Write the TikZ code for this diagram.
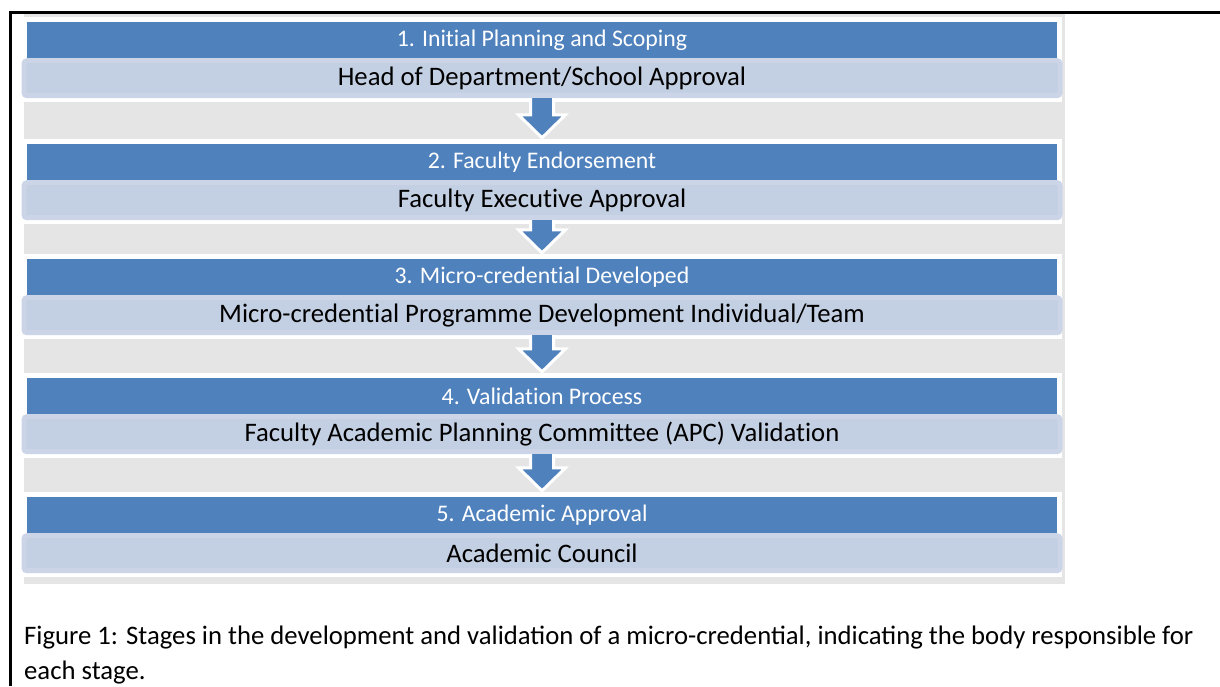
\documentclass[tikz,border=0pt]{standalone}
\usepackage{fontspec}
\setmainfont{Carlito}[Ligatures=NoCommon]
\newfontfamily\capfont{Carlito}
\usetikzlibrary{positioning,calc}

\definecolor{stageblue}{HTML}{4F81BD}
\definecolor{bodyfill}{HTML}{C3CFE2}
\definecolor{bodyglow}{HTML}{CCD5E8}
\definecolor{panelgray}{HTML}{E5E5E5}

\begin{document}
\begin{tikzpicture}[x=1pt,y=-1pt,
  stagebar/.style={rectangle,fill=stageblue,text=white,minimum width=1030pt,
    minimum height=36pt,inner sep=0pt,font=\fontsize{23.8}{28}\selectfont},
  bodybar/.style={rectangle,fill=bodyfill,draw=bodyglow,line width=5pt,
    rounded corners=3pt,minimum width=1036pt,minimum height=35pt,inner sep=0pt,
    font=\fontsize{26.7}{31}\selectfont},
  blockarrow/.style={fill=stageblue,draw=white,line width=3pt,line join=miter}]
  \useasboundingbox (0,0) rectangle (1220,686);
  % frame and panel
  \draw[line width=3pt] (10,686) -- (10,12) -- (1220,12);
  \fill[panelgray] (24,14) rectangle (1065,584);
  \foreach \t in {22,144,259,378,497}
    \fill[white] (24,\t-5) rectangle (1062,\t+80);

  % stages
  \node[stagebar] (s1) at (542,40) {1. Initial Planning and Scoping};
  \node[bodybar,below=0pt of s1] (b1) {Head of Department/School Approval};
  \node[stagebar] (s2) at (542,162) {2. Faculty Endorsement};
  \node[bodybar,below=0pt of s2] (b2) {Faculty Executive Approval};
  \node[stagebar] (s3) at (542,277) {3. Micro-credential Developed};
  \node[bodybar,below=0pt of s3] (b3) {Micro-credential Programme Development Individual/Team};
  \node[stagebar] (s4) at (542,396) {4. Validation Process};
  \node[bodybar,below=0pt of s4] (b4) {Faculty Academic Planning Committee (APC) Validation};
  \node[stagebar] (s5) at (542,515) {5. Academic Approval};
  \node[bodybar,below=0pt of s5] (b5) {Academic Council};

  % arrows between stages
  \foreach \a/\b in {b1/s2,b2/s3,b3/s4,b4/s5}
    \draw[blockarrow] ($(\a.south)+(-11.5,0)$) -- ($(\b.north)+(-11.5,-29)$)
      -- ($(\b.north)+(-23.5,-29)$) -- ($(\b.north)+(0,-6)$)
      -- ($(\b.north)+(23.5,-29)$) -- ($(\b.north)+(11.5,-29)$)
      -- ($(\a.south)+(11.5,0)$);

  % caption
  \node[anchor=base west,align=left,inner sep=0pt,
    font=\capfont\fontsize{26.7}{35}\selectfont] (caption) at (24,679)
    {Figure 1: Stages in the development and validation of a micro-credential, indicating the body responsible for\\each stage.};
\end{tikzpicture}
\end{document}
